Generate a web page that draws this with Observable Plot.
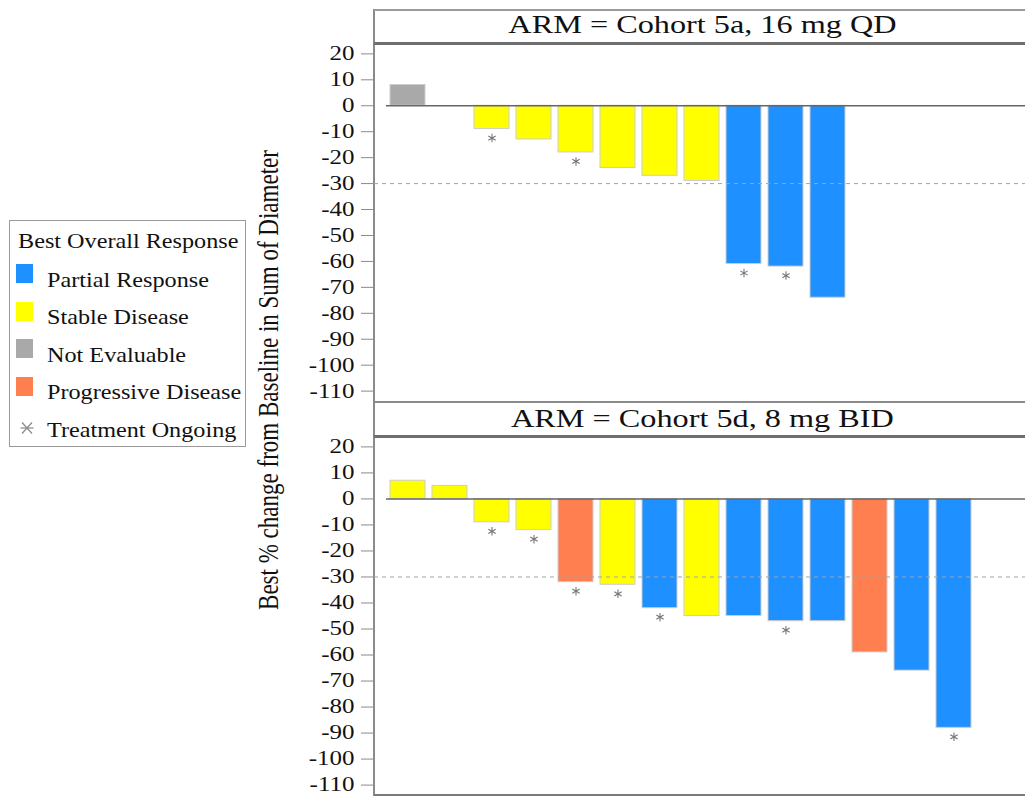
<!DOCTYPE html>
<html>
<head>
<meta charset="utf-8">
<script src="https://cdn.jsdelivr.net/npm/d3@7"></script>
<script src="https://cdn.jsdelivr.net/npm/@observablehq/plot@0.6"></script>
<style>
html, body { margin: 0; padding: 0; background: #fff; overflow: hidden; }
#root { position: relative; width: 1025px; height: 796px; overflow: hidden; background: #fff;
  font-family: "Liberation Serif", "Times New Roman", serif; color: #111; }
.abs { position: absolute; }
.hl { position: absolute; left: 374px; width: 700px; }
.header { position: absolute; left: 374px; width: 656px; text-align: center; font-size: 25px;
  line-height: 25px; white-space: nowrap; }
.header span { display: inline-block; transform: scaleX(1.29); }
.legtext { position: absolute; font-size: 22px; line-height: 22px; white-space: nowrap;
  transform: scaleX(1.1); transform-origin: left center; }
.sw { position: absolute; left: 16px; width: 17px; height: 19px; }
.panel { position: absolute; left: 250px; }
</style>
</head>
<body>
<div id="root"></div>
<script>
// ---------- data ----------
const responses = ["Partial Response", "Stable Disease", "Not Evaluable", "Progressive Disease"];
const responseColors = ["#1E90FF", "#FFFF00", "#A9A9A9", "#FF7F50"];
const legendTitle = "Best Overall Response";
const ongoingLabel = "Treatment Ongoing";
const yLabel = "Best % change from Baseline in Sum of Diameter";
const panelTitles = ["ARM = Cohort 5a, 16 mg QD", "ARM = Cohort 5d, 8 mg BID"];
const yTicks = [20, 10, 0, -10, -20, -30, -40, -50, -60, -70, -80, -90, -100, -110];
const yDomain = [-114, 24];
const refLine = -30;
const nSubjects = 15;

// Cohort 5a (subject order on the shared x axis; null = no subject)
const topValues    = [8, null, -9, -13, -18, -24, -27, -29, -61, -62, -74];
const topResponses = ["Not Evaluable", null, "Stable Disease", "Stable Disease", "Stable Disease",
  "Stable Disease", "Stable Disease", "Stable Disease", "Partial Response", "Partial Response", "Partial Response"];
const topOngoing   = [false, false, true, false, true, false, false, false, true, true, false];

// Cohort 5d
const bottomValues    = [7, 5, -9, -12, -32, -33, -42, -45, -45, -47, -47, -59, -66, -88];
const bottomResponses = ["Stable Disease", "Stable Disease", "Stable Disease", "Stable Disease",
  "Progressive Disease", "Stable Disease", "Partial Response", "Stable Disease", "Partial Response",
  "Partial Response", "Partial Response", "Progressive Disease", "Partial Response", "Partial Response"];
const bottomOngoing   = [false, false, true, true, true, true, true, false, false, true, false, false, false, true];

// ---------- layout ----------
const root = document.getElementById("root");
function add(html) { root.insertAdjacentHTML("beforeend", html); }

// frame lines
add(`<div class="abs" style="left:373px;top:9px;width:2px;height:787px;background:#8a8a8a"></div>`);
add(`<div class="hl" style="top:9px;height:1.5px;background:#9a9a9a"></div>`);
add(`<div class="hl" style="top:42px;height:2.5px;background:#6f6f6f"></div>`);
add(`<div class="hl" style="top:401px;height:1.5px;background:#8a8a8a"></div>`);
add(`<div class="hl" style="top:435px;height:2.5px;background:#6f6f6f"></div>`);
add(`<div class="hl" style="top:794px;height:2px;background:#7a7a7a"></div>`);

// headers
add(`<div class="header" style="top:12px"><span>${panelTitles[0]}</span></div>`);
add(`<div class="header" style="top:406px"><span>${panelTitles[1]}</span></div>`);

// y label
add(`<div class="abs" style="left:269px;top:380px;font-size:23px;line-height:23px;white-space:nowrap;
  transform:translate(-50%,-50%) rotate(-90deg) scale(1,1.25);">${yLabel}</div>`);

// legend
add(`<div class="abs" style="left:9px;top:220px;width:237px;height:227px;box-sizing:border-box;border:1.5px solid #9a9a9a"></div>`);
add(`<div class="legtext" style="left:18px;top:${248 - 18.4}px">${legendTitle}</div>`);
const baselines = [287, 324.5, 362, 399.5];
responses.forEach((r, i) => {
  add(`<div class="sw" style="top:${baselines[i] - 23}px;background:${responseColors[i]}"></div>`);
  add(`<div class="legtext" style="left:47px;top:${baselines[i] - 18.4}px">${r}</div>`);
});
add(`<svg class="abs" style="left:20px;top:421px" width="14" height="14" viewBox="-7 -7 14 14">
  <g stroke="#8a8a8a" stroke-width="1.2" fill="none">
  <line x1="-6.5" y1="0" x2="6.5" y2="0"/><line x1="-5" y1="-5.5" x2="5" y2="5.5"/><line x1="-5" y1="5.5" x2="5" y2="-5.5"/></g></svg>`);
add(`<div class="legtext" style="left:47px;top:${437 - 18.4}px">${ongoingLabel}</div>`);

// ---------- panels ----------
function panel(values, resp, ongoing, h) {
  const rows = values.map((v, i) => ({slot: i, value: v, response: resp[i], ongoing: ongoing[i]}))
    .filter(d => d.value != null);
  return Plot.plot({
    width: 790, height: h + 20,
    marginLeft: 124, marginRight: 10, marginTop: 10, marginBottom: 10,
    x: {type: "band", domain: d3.range(nSubjects), paddingInner: 0.157, paddingOuter: 0.35, axis: null},
    y: {domain: yDomain},
    color: {domain: responses, range: responseColors},
    style: {fontFamily: '"Liberation Serif", serif', fontSize: "20px", background: "transparent",
      overflow: "visible", color: "#111"},
    marks: [
      Plot.barY(rows, {x: "slot", y: "value", fill: "response", stroke: "#cdcdcd", strokeWidth: 1}),
      Plot.ruleY([refLine], {stroke: "#a5a5a5", strokeDasharray: "4,4", strokeWidth: 1}),
      Plot.ruleY([0], {stroke: "#666", strokeWidth: 1.6, insetLeft: 12}),
      Plot.dot(rows.filter(d => d.ongoing), {x: "slot", y: "value", dy: 9, symbol: "asterisk",
        r: 4, stroke: "#777", strokeWidth: 1.1}),
      Plot.axisY({ticks: yTicks, tickSize: 13, tickPadding: 7, stroke: "#8a8a8a", fill: "#111",
        label: null, fontSize: 20, tickFormat: d => String(d)})
    ]
  });
}

function stretchTicks(svg) {
  svg.querySelectorAll('g[aria-label="y-axis tick label"] text').forEach(t => {
    const bb = t.getBBox();
    const rx = bb.x + bb.width;
    const tr = t.getAttribute("transform") || "";
    t.setAttribute("transform", `${tr} translate(${rx},0) scale(1.25,1) translate(${-rx},0)`);
  });
}

const top1 = panel(topValues, topResponses, topOngoing, 358);
top1.classList.add("panel");
top1.style.top = (43 - 10) + "px";
root.appendChild(top1);
stretchTicks(top1);

const bot = panel(bottomValues, bottomResponses, bottomOngoing, 359);
bot.classList.add("panel");
bot.style.top = (436 - 10) + "px";
root.appendChild(bot);
stretchTicks(bot);
</script>
</body>
</html>
